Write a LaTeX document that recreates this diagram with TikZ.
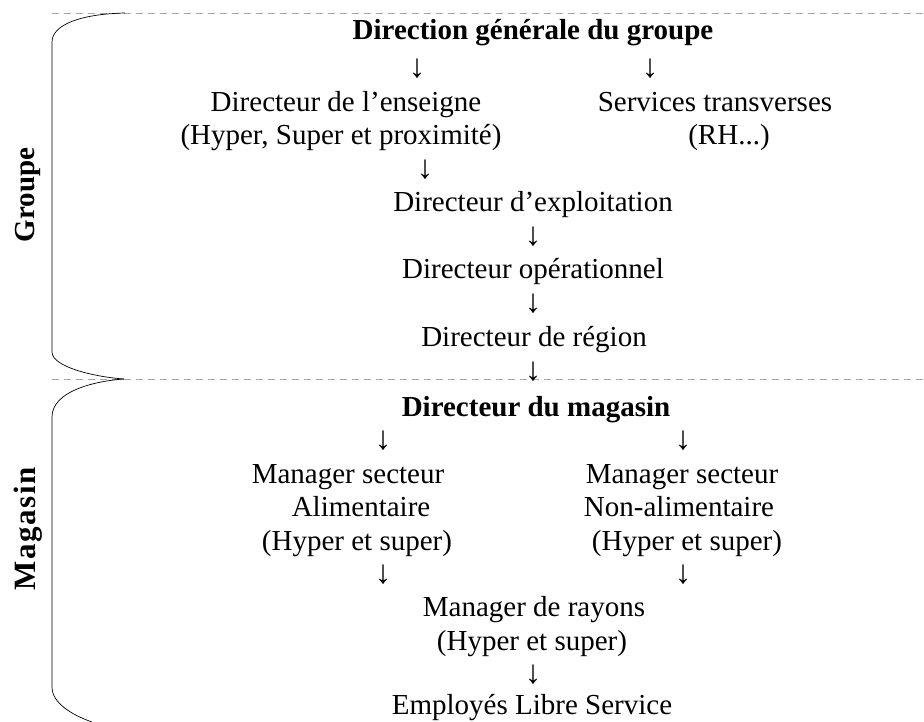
\documentclass[tikz,border=0pt]{standalone}
\usepackage{fontspec}
\setmainfont{Liberation Serif}

\begin{document}
\begin{tikzpicture}[
  x=1pt, y=-1pt,
  item/.style={anchor=base, inner sep=0pt, font=\fontsize{29}{34}\selectfont},
  head/.style={item, font=\fontsize{29}{34}\selectfont\bfseries},
  fleche/.style={item, font=\fontsize{33}{34}\selectfont},
  side/.style={head, rotate=90, anchor=center},
  sep/.style={draw=black!35, line width=0.8pt, dash pattern=on 7pt off 5pt},
  brace/.style={draw, line width=0.7pt}
]
\useasboundingbox (0,0) rectangle (924,721);

\draw[sep] (52,13) -- (924,13);
\draw[sep] (52,379) -- (924,379);

\draw[brace] (125,13) .. controls (80,14) and (52,25) .. (52,42) -- (52,352)
  .. controls (52,367) and (95,377) .. (124,379);
\draw[brace] (124,379) .. controls (95,381) and (52,391) .. (52,417) -- (52,687)
  .. controls (52,703) and (72,715) .. (92,722);

\node[side] (groupe) at (28,195) {Groupe};
\node[side, font=\fontsize{31}{34}\selectfont\bfseries] (mag) at (28,529)
  {\addfontfeature{LetterSpace=5}Magasin};

\node[head] (dg) at (533,39) {Direction générale du groupe};
\node[fleche] (f1) at (417,77) {↓};
\node[fleche] (f2) at (650,77) {↓};
\node[item] (enseigne) at (346,111) {Directeur de l’enseigne};
\node[item] (enseigne2) at (341,144) {(Hyper, Super et proximité)};
\node[item] (transv) at (715,111) {Services transverses};
\node[item] (transv2) at (729,144) {(RH...)};
\node[fleche] (f3) at (425,178) {↓};
\node[item] (exploit) at (533,211) {Directeur d’exploitation};
\node[fleche] (f4) at (533,245) {↓};
\node[item] (operat) at (533,278) {Directeur opérationnel};
\node[fleche] (f5) at (533,312) {↓};
\node[item] (region) at (534,346) {Directeur de région};
\node[fleche] (f6) at (533,380) {↓};

\node[head] (magasin) at (536,416) {Directeur du magasin};
\node[fleche] (f7) at (383,449) {↓};
\node[fleche] (f8) at (683,449) {↓};
\node[item] (alim) at (348,483) {Manager secteur};
\node[item] (alim2) at (361,516) {Alimentaire};
\node[item] (alim3) at (357,550) {(Hyper et super)};
\node[item] (nonalim) at (682,483) {Manager secteur};
\node[item] (nonalim2) at (679,516) {Non-alimentaire};
\node[item] (nonalim3) at (687,550) {(Hyper et super)};
\node[fleche] (f9) at (383,583) {↓};
\node[fleche] (f10) at (683,583) {↓};
\node[item] (rayons) at (534,616) {Manager de rayons};
\node[item] (rayons2) at (532,650) {(Hyper et super)};
\node[fleche] (f11) at (533,683) {↓};
\node[item] (employes) at (532,714) {Employés Libre Service};
\end{tikzpicture}
\end{document}
